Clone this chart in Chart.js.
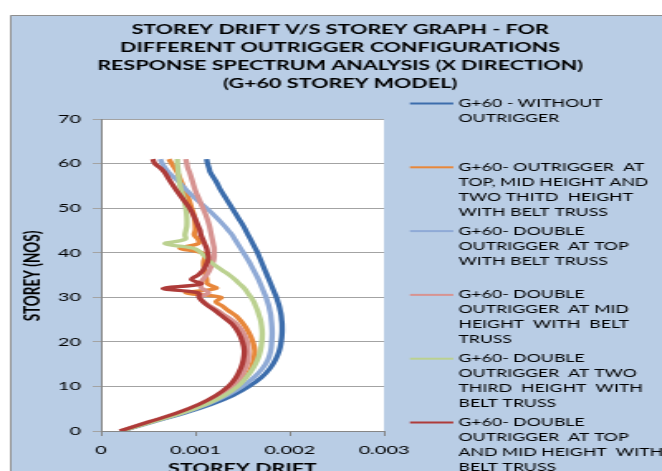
<!DOCTYPE html>
<html>
<head>
<meta charset="utf-8">
<script src="https://cdn.jsdelivr.net/npm/chart.js@4.4.1/dist/chart.umd.min.js"></script>
<style>
  html, body { margin: 0; padding: 0; background: #fff; }
</style>
</head>
<body>
<!-- the reference picture is stretched sideways, so the canvas is drawn narrow and widened by css -->
<canvas id="chart" width="400" height="471" style="display:block;width:662px;height:471px"></canvas>
<script>
// storey numbers (y) shared by all series
const storeys = [0, 2, 4, 6, 8, 10, 12, 14, 16, 18, 20, 22, 24, 25, 26, 27, 28, 29, 30, 31, 32, 33, 34, 35,
  36, 37, 38, 39, 40, 41, 42, 43, 44, 45, 46, 48, 50, 52, 54, 56, 58, 59, 60, 61];

// storey drift (x) per configuration
const driftWithout = [0.00022, 0.00055, 0.00088, 0.00117, 0.00140, 0.00157, 0.00170, 0.00179, 0.00185, 0.00189,
  0.00191, 0.00192, 0.00192, 0.001915, 0.00191, 0.00190, 0.00189, 0.001875, 0.00186, 0.00184, 0.00182, 0.00180,
  0.00178, 0.00176, 0.00174, 0.00172, 0.00170, 0.00168, 0.00166, 0.001635, 0.00161, 0.001585, 0.00156, 0.001535,
  0.00151, 0.00145, 0.00139, 0.00133, 0.00127, 0.00122, 0.00116, 0.001145, 0.00113, 0.00112];
const driftTopMidTwoThird = [0.00021, 0.00053, 0.00084, 0.00110, 0.00129, 0.00143, 0.00153, 0.00159, 0.00162, 0.00163,
  0.00161, 0.00157, 0.00151, 0.00147, 0.00142, 0.00135, 0.00129, 0.00122, 0.00127, 0.00090, 0.00122, 0.00113,
  0.00112, 0.00111, 0.00110, 0.00109, 0.00109, 0.00110, 0.00107, 0.00084, 0.00103, 0.00103, 0.00099, 0.00100,
  0.00100, 0.00099, 0.00096, 0.00093, 0.00089, 0.00085, 0.00081, 0.00078, 0.00075, 0.00072];
const driftDoubleTop = [0.00022, 0.00054, 0.00086, 0.00113, 0.00134, 0.00150, 0.00162, 0.00171, 0.00177, 0.00180,
  0.00181, 0.001815, 0.00181, 0.001805, 0.00180, 0.00179, 0.00178, 0.001765, 0.00175, 0.00173, 0.00171, 0.00169,
  0.00167, 0.001645, 0.00162, 0.001595, 0.00157, 0.00154, 0.00151, 0.00148, 0.00145, 0.00142, 0.00139, 0.00135,
  0.00131, 0.00122, 0.00112, 0.00101, 0.00091, 0.00082, 0.00072, 0.00068, 0.00065, 0.00063];
const driftDoubleMid = [0.00021, 0.00052, 0.00082, 0.00107, 0.00126, 0.00139, 0.00148, 0.00153, 0.00156, 0.00156,
  0.00155, 0.00151, 0.00144, 0.00138, 0.00131, 0.00124, 0.00116, 0.00109, 0.00105, 0.00114, 0.00107, 0.00105,
  0.00108, 0.00112, 0.00115, 0.00117, 0.00119, 0.00120, 0.00120, 0.00120, 0.00119, 0.00118, 0.00117, 0.00116,
  0.00115, 0.00112, 0.00108, 0.00104, 0.00100, 0.00097, 0.00094, 0.00092, 0.00091, 0.00090];
const driftDoubleTwoThird = [0.00022, 0.00054, 0.00086, 0.00112, 0.00131, 0.00145, 0.00154, 0.00161, 0.00166, 0.00169,
  0.001705, 0.00171, 0.00170, 0.00169, 0.001675, 0.00166, 0.00164, 0.00162, 0.00159, 0.001555, 0.00152, 0.00147,
  0.00142, 0.00136, 0.00129, 0.00122, 0.00116, 0.00111, 0.00106, 0.00098, 0.00068, 0.00089, 0.00089, 0.00090,
  0.00091, 0.00091, 0.00090, 0.00088, 0.00085, 0.00083, 0.00082, 0.000815, 0.00081, 0.00081];
const driftDoubleTopMid = [0.00020, 0.00050, 0.00080, 0.00104, 0.00122, 0.00135, 0.00143, 0.00148, 0.00151, 0.00152,
  0.00150, 0.00146, 0.00139, 0.00133, 0.00127, 0.00121, 0.00114, 0.00108, 0.00104, 0.00103, 0.00066, 0.00106,
  0.00096, 0.00103, 0.00108, 0.00111, 0.00113, 0.00114, 0.00113, 0.00112, 0.00110, 0.00108, 0.00106, 0.00105,
  0.00103, 0.00099, 0.00094, 0.00087, 0.00080, 0.000735, 0.000675, 0.00063, 0.00057, 0.00055];

const xTicks = [0, 0.001, 0.002, 0.003];
const xTickLabels = ['0', '0.001', '0.002', '0.003'];
const yTicks = [0, 10, 20, 30, 40, 50, 60, 70];

const titleLines = [
  'STOREY DRIFT V/S STOREY GRAPH - FOR',
  'DIFFERENT OUTRIGGER CONFIGURATIONS',
  'RESPONSE SPECTRUM ANALYSIS (X DIRECTION)',
  '(G+60 STOREY MODEL)'
];
const seriesLabels = [
  ['G+60 - WITHOUT', 'OUTRIGGER'],
  ['G+60- OUTRIGGER  AT', 'TOP, MID HEIGHT AND', 'TWO THITD  HEIGHT', 'WITH BELT TRUSS'],
  ['G+60- DOUBLE', 'OUTRIGGER  AT TOP', 'WITH BELT TRUSS'],
  ['G+60- DOUBLE', 'OUTRIGGER  AT MID', 'HEIGHT  WITH  BELT', 'TRUSS'],
  ['G+60- DOUBLE', 'OUTRIGGER  AT TWO', 'THIRD  HEIGHT  WITH', 'BELT TRUSS'],
  ['G+60- DOUBLE', 'OUTRIGGER  AT TOP', 'AND MID HEIGHT  WITH', 'BELT TRUSS']
];

const driftSeries = [driftWithout, driftTopMidTwoThird, driftDoubleTop, driftDoubleMid, driftDoubleTwoThird, driftDoubleTopMid];
const colours = ['#3C6DAC', '#E8873A', '#8FAAD6', '#D79391', '#BBD190', '#AE3B39'];

const FONT = 'Lato, "Open Sans", sans-serif';

// background, title, legend and axis titles
const decor = {
  id: 'decor',
  beforeDraw(chart) {
    const { ctx, width, height, chartArea: a } = chart;
    ctx.save();
    ctx.fillStyle = '#fff';
    ctx.fillRect(0, 0, width, height);
    ctx.fillStyle = '#B9CDE5';
    ctx.fillRect(6, 15, width - 6, height - 15);
    ctx.strokeStyle = '#8E8E8E';
    ctx.lineWidth = 1;
    ctx.beginPath();
    ctx.moveTo(6.5, height);
    ctx.lineTo(6.5, 15.5);
    ctx.lineTo(width, 15.5);
    ctx.stroke();
    ctx.fillStyle = '#fff';
    ctx.fillRect(a.left, a.top, a.right - a.left, a.bottom - a.top);
    ctx.restore();
  },
  afterDraw(chart) {
    const { ctx, chartArea: a } = chart;
    ctx.save();
    ctx.fillStyle = '#000';

    ctx.font = 'bold 13px ' + FONT;
    ctx.textAlign = 'center';
    ctx.textBaseline = 'middle';
    titleLines.forEach((t, i) => ctx.fillText(t, 205.5, 30 + i * 18));

    // y title
    ctx.save();
    ctx.translate(20, 276);
    ctx.rotate(-Math.PI / 2);
    ctx.font = 'bold 13.5px ' + FONT;
    ctx.fillText('STOREY (NOS)', 0, 0);
    ctx.restore();

    // x title, cut by the bottom edge as in the source
    ctx.font = 'bold 13px ' + FONT;
    ctx.textBaseline = 'alphabetic';
    ctx.fillText('STOREY DRIFT', (a.left + a.right) / 2, 473);

    // legend
    ctx.textAlign = 'left';
    ctx.textBaseline = 'middle';
    ctx.font = '10.7px ' + FONT;
    seriesLabels.forEach((lines, i) => {
      const y0 = 103.5 + i * 63.8;
      ctx.strokeStyle = colours[i];
      ctx.lineWidth = 2;
      ctx.beginPath();
      ctx.moveTo(247.7, y0);
      ctx.lineTo(273.9, y0);
      ctx.stroke();
      lines.forEach((t, k) => ctx.fillText(t, 277, y0 + k * 15));
    });
    ctx.restore();
  }
};

new Chart(document.getElementById('chart'), {
  type: 'scatter',
  data: {
    datasets: driftSeries.map((d, i) => ({
      label: seriesLabels[i].join(' '),
      data: storeys.map((s, j) => ({ x: d[j], y: s })),
      borderColor: colours[i],
      backgroundColor: colours[i],
      borderWidth: 3.3,
      pointRadius: 0,
      showLine: true,
      tension: 0.4,
      fill: false,
      order: driftSeries.length - 1 - i
    }))
  },
  options: {
    responsive: false,
    devicePixelRatio: 1,
    animation: false,
    layout: { padding: { left: 6, top: 119, right: 168, bottom: 0 } },
    plugins: { legend: { display: false }, title: { display: false }, tooltip: { enabled: false } },
    scales: {
      x: {
        type: 'linear',
        min: 0,
        max: 0.003,
        afterFit: s => { s.height = 40; },
        afterBuildTicks: s => { s.ticks = xTicks.map(v => ({ value: v })); },
        grid: { drawOnChartArea: false, tickLength: 5, color: '#868686' },
        border: { color: '#868686' },
        ticks: {
          padding: 7,
          maxRotation: 0,
          color: '#000',
          font: { family: FONT, size: 12 },
          callback: (v, i) => xTickLabels[i]
        }
      },
      y: {
        type: 'linear',
        min: 0,
        max: 70,
        afterFit: s => { s.width = 55; },
        afterBuildTicks: s => { s.ticks = yTicks.map(v => ({ value: v })); },
        grid: { tickLength: 5, color: '#A3A3A3' },
        border: { color: '#868686' },
        ticks: {
          padding: 7,
          color: '#000',
          font: { family: FONT, size: 12 },
          callback: v => String(v)
        }
      }
    }
  },
  plugins: [decor]
});
</script>
</body>
</html>
